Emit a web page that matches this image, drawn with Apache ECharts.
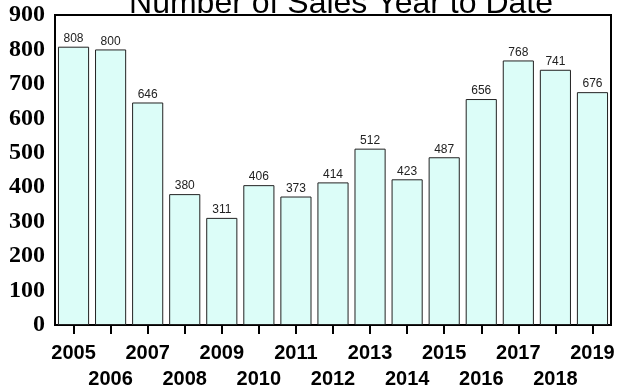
<!DOCTYPE html>
<html>
<head>
<meta charset="utf-8">
<script src="https://cdn.jsdelivr.net/npm/echarts@6/dist/echarts.min.js"></script>
<style>
  html, body { margin: 0; padding: 0; background: #fff; }
  #chart { width: 620px; height: 392px; }
</style>
</head>
<body>
<div id="chart"></div>
<script>
// Yearly sales counts
const years = ['2005', '2006', '2007', '2008', '2009', '2010', '2011', '2012',
               '2013', '2014', '2015', '2016', '2017', '2018', '2019'];
const sales = [808, 800, 646, 380, 311, 406, 373, 414, 512, 423, 487, 656, 768, 741, 676];
const yTicks = [0, 100, 200, 300, 400, 500, 600, 700, 800, 900];

const chart = echarts.init(document.getElementById('chart'), null, { renderer: 'canvas' });

chart.setOption({
  animation: false,
  backgroundColor: '#ffffff',
  title: {
    text: 'Number of Sales Year to Date',
    left: 336,
    textAlign: 'center',
    top: -17,
    textStyle: {
      fontFamily: 'Liberation Sans',
      fontWeight: 'normal',
      fontSize: 32,
      color: '#000'
    }
  },
  grid: {
    left: 55,
    right: 9,
    top: 15,
    bottom: 67,
    show: true,
    borderColor: '#000',
    borderWidth: 2,
    backgroundColor: 'transparent'
  },
  xAxis: {
    type: 'category',
    data: years,
    axisLine: { show: true, lineStyle: { color: '#000', width: 2 } },
    axisTick: { show: true, alignWithLabel: true, length: 9, lineStyle: { color: '#000', width: 2 } },
    axisLabel: {
      interval: 0,
      margin: 15,
      fontFamily: 'Liberation Sans',
      fontWeight: 'bold',
      fontSize: 20,
      lineHeight: 26,
      color: '#000',
      formatter: (v, i) => (i % 2 === 1 ? '\n' + v : v)
    }
  },
  yAxis: {
    type: 'value',
    min: yTicks[0],
    max: yTicks[yTicks.length - 1],
    interval: 100,
    splitLine: { show: false },
    axisLine: { show: false },
    axisTick: { show: false },
    axisLabel: {
      margin: 10,
      fontFamily: 'Liberation Serif',
      fontWeight: 'bold',
      fontSize: 24,
      color: '#000'
    }
  },
  series: [{
    type: 'bar',
    data: sales,
    barCategoryGap: '16%',
    itemStyle: {
      color: '#dcfdf8',
      borderColor: '#222',
      borderWidth: 1
    },
    label: {
      show: true,
      position: 'top',
      distance: 2,
      fontFamily: 'Liberation Sans',
      fontSize: 12,
      color: '#222'
    }
  }]
});
</script>
</body>
</html>
